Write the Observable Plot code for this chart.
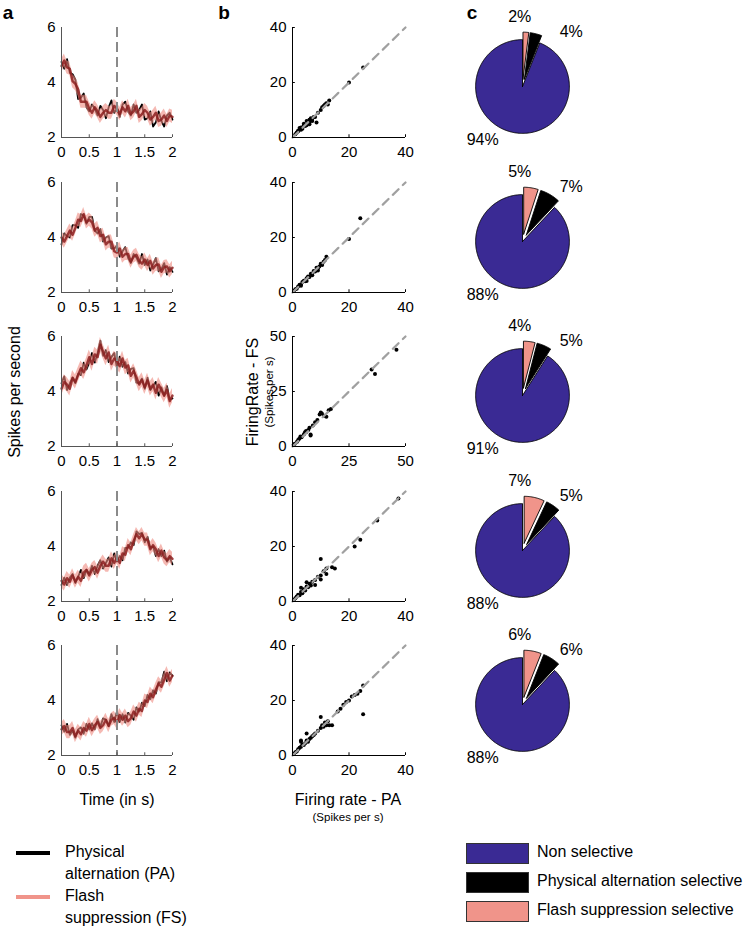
<!DOCTYPE html>
<html><head><meta charset="utf-8">
<script src="https://cdn.jsdelivr.net/npm/d3@7"></script>
<script src="https://cdn.jsdelivr.net/npm/@observablehq/plot@0.6"></script>
<style>
body{margin:0;background:#fff;}
#fig{position:relative;width:748px;height:927px;background:#fff;font-family:"Liberation Sans",Arial,Helvetica,sans-serif;color:#000;overflow:hidden}
.t{position:absolute;white-space:nowrap;line-height:1}
.c{transform:translate(-50%,-50%)}
.r{transform:translate(-50%,-50%) rotate(-90deg)}
</style></head><body><div id="fig"></div>
<script>
// ---------- DATA ----------
const timeSec = [0,0.05,0.1,0.15,0.2,0.25,0.3,0.35,0.4,0.45,0.5,0.55,0.6,0.65,0.7,0.75,0.8,0.85,0.9,0.95,1,1.05,1.1,1.15,1.2,1.25,1.3,1.35,1.4,1.45,1.5,1.55,1.6,1.65,1.7,1.75,1.8,1.85,1.9,1.95,2];
const timeTicks = [0,0.5,1,1.5,2];
const rateTicks = [2,4,6];
const stimOnset = [1];

// Physical alternation (PA) mean firing rate, one list per row
const paRates = [
  [4.75,4.5,4.85,4.35,4.3,4.1,3.4,3.45,3.6,3.1,2.95,3.2,3.05,2.8,3.15,3.0,2.7,3.1,3.35,2.9,3.05,2.75,3.2,3.3,2.95,2.8,3.2,2.9,3.0,3.2,2.65,2.7,2.95,2.4,2.55,2.95,2.6,2.4,2.8,2.9,2.65],
  [3.75,4.15,4.05,4.0,4.45,4.45,4.35,4.85,4.8,4.5,4.75,4.75,4.25,4.15,4.3,3.85,4.0,4.05,3.6,3.6,3.7,3.3,3.5,3.65,3.25,3.07,3.4,3.27,3.05,3.4,3.0,3.2,2.8,3.02,3.25,2.77,2.85,3.07,2.65,2.92,2.75],
  [4.3,4.55,4.05,4.3,4.5,4.3,4.65,4.6,5.05,4.8,5.05,5.4,5.05,5.4,5.85,5.3,5.5,5.07,5.25,5.4,4.85,5.27,4.9,5.07,4.65,4.82,4.85,4.32,4.3,4.47,4.1,4.5,4.05,4.2,4.35,3.85,4.15,3.85,4.2,3.7,3.75],
  [2.6,2.87,2.6,2.87,3.0,2.67,2.9,3.15,2.85,3.15,3.0,3.3,3.0,3.3,3.5,3.2,3.4,3.6,3.27,3.75,3.45,3.65,3.5,3.95,3.95,4.15,4.05,4.55,4.45,4.5,4.15,4.35,3.95,4.0,3.65,3.9,3.65,3.85,3.45,3.6,3.35],
  [3.1,2.87,3.15,2.75,2.9,2.65,2.95,3.02,2.8,3.15,2.95,3.17,2.95,3.32,3.05,3.35,3.3,3.07,3.5,3.22,3.6,3.22,3.5,3.2,3.55,3.45,3.3,3.75,3.6,3.92,3.8,4.2,4.05,4.37,4.25,4.67,4.65,5.05,4.7,5.02,4.9]
];
// Flash suppression (FS) mean firing rate, one list per row
const fsRates = [
  [4.6,4.8,4.55,4.5,4.05,3.95,3.75,3.3,3.3,3.3,3.05,2.9,3.1,2.95,2.75,2.9,3.0,2.9,2.9,3.15,3.05,2.85,3.1,2.95,3.15,2.85,2.95,3.15,2.75,2.85,3.0,2.9,2.65,2.75,2.9,2.6,2.65,2.8,2.6,2.8,2.75],
  [4.0,3.85,4.05,4.25,4.1,4.35,4.65,4.6,4.85,4.55,4.65,4.55,4.25,4.35,4.05,4.1,3.75,3.85,3.85,3.5,3.45,3.6,3.3,3.4,3.4,3.12,3.3,3.37,3.15,3.05,3.2,3.0,3.15,2.87,3.0,3.02,2.75,2.92,2.95,2.77,2.9],
  [4.1,4.35,4.25,4.1,4.5,4.35,4.6,4.85,4.7,4.95,5.25,5.0,5.35,5.25,5.7,5.45,5.2,5.42,5.0,5.2,5.1,4.92,5.2,4.87,4.95,4.57,4.75,4.52,4.25,4.42,4.15,4.4,4.1,4.25,3.95,4.25,4.05,3.85,4.05,3.65,3.85],
  [2.75,2.62,2.85,2.72,2.95,2.72,2.9,2.75,3.05,3.15,2.95,3.15,3.25,3.05,3.3,3.45,3.3,3.3,3.57,3.4,3.6,3.4,3.75,3.7,4.05,3.9,4.2,4.45,4.3,4.45,4.25,4.25,3.9,4.05,3.9,3.65,3.85,3.6,3.5,3.65,3.55],
  [2.95,3.07,2.85,2.85,3.0,2.7,2.9,2.77,3.0,2.9,3.15,2.92,3.1,3.22,3.0,3.1,3.3,3.07,3.3,3.37,3.2,3.47,3.3,3.45,3.25,3.35,3.6,3.45,3.7,3.62,4.0,3.95,4.25,4.12,4.4,4.62,4.5,4.75,5.0,4.72,4.9]
];
const fsSem = [0.24,0.24,0.26,0.24,0.24];

// Panel b: per-neuron firing rates (PA on x, FS on y)
const scatterPA = [
  [1,1.5,2,2.5,3,3,3.5,4,4.5,5,5,5.5,6,6,6.5,7,7.5,8,8.5,9,10,10.5,11,11.5,12,12.5,13,4,2,7,6,20,25],
  [0.5,1,1.5,2,2.5,3,3.5,4,4.5,5,5.5,6,6.5,7,7.5,8,8.5,9,9.5,10,10.5,11,11.5,12,3,5,7,9,20,24],
  [0.5,1,2,2.5,3,3.5,4,5,5.5,6,7,7.5,8,9,10,11,12,12.5,13,14,15,16,17,6,8,35,36.5,46],
  [0.5,1,1.5,2,2.5,3,3.5,4,4.5,5,5.5,6,6.5,7,8,9,10,11,12,3,5,8,10,12,14,10,15,22,24,30,37.5],
  [0.5,1,1.5,2,2.5,3,3,3.5,4,4.5,5,5.5,6,6.5,7,7.5,8,9,10,10.5,11,11.5,12,12.5,13,14,10,5,3,16,17,18,19,20,21,22,23,24,25,25]
];
const scatterFS = [
  [1.2,1.8,2.3,3.5,2.8,3.6,3.2,4.5,4.2,4.5,6,5.3,6.5,5.5,7,6.8,7.5,7.5,5.5,9,10,11,11.5,12,12.5,12,13.5,5,2.5,6,4.8,20,25.5],
  [0.6,1.2,1.4,2.2,2.8,2.9,3.8,4.3,4.1,5.2,5.8,5.6,6.8,6.9,7.8,7.6,9,8.8,9.5,10.5,10,11.2,11.8,13,2.5,4.2,6.3,8,19.5,27],
  [0.8,1.3,2.2,3.0,3.5,4.5,4.2,5.5,6.5,6.5,7.5,8.5,5,9.5,11,12,14.5,15.5,15,14,13.5,16.5,17,7,5.5,35,33,44],
  [0.6,1.2,1.8,2.5,2.3,3.5,3.0,4.5,4.0,5.5,5.2,6.5,5.8,7.2,7.8,9.0,9.5,11,12,5,7,6,8,10,12.5,15.5,12,20,22.5,29.5,37.5],
  [0.6,1.2,1.5,2.3,2.8,3.2,5,4,3.8,4.5,5.5,5,6,6.5,7,7.5,8,9,10,11,10.5,12,11,12.5,11,11,14,8,5.5,16,17,18.5,19.5,20,21.5,22,22.5,23.5,25.5,15]
];
const scatterMax = [40,40,50,40,40];
const scatterTicks = [[0,20,40],[0,20,40],[0,25,50],[0,20,40],[0,20,40]];

// Panel c: percentage of neurons per category
const pieCategories = ["Flash suppression selective","Physical alternation selective","Non selective"];
const pieFlash    = [2,5,4,7,6];
const piePhysical = [4,7,5,5,6];
const pieNon      = [94,88,91,88,88];
const pieColors = ["#F0948A","#000000","#3A2A94"];

const legendLines = ["Physical\nalternation (PA)","Flash\nsuppression (FS)"];
const legendLineColors = ["#000000","#F0948A"];
const legendPie = ["Non selective","Physical alternation selective","Flash suppression selective"];
const legendPieColors = ["#3A2A94","#000000","#F0948A"];

// ---------- LAYOUT ----------
const FONT = '"Liberation Sans", Arial, Helvetica, sans-serif';
const fig = document.getElementById("fig");
const ROW = 154.5;
const fmt = d3.format("~g");
function put(el, left, top){ el.style.position="absolute"; el.style.left=left+"px"; el.style.top=top+"px"; fig.appendChild(el); }
function txt(s, x, y, size, cls, extra){ const d=document.createElement("div"); d.className="t "+cls; d.textContent=s; d.style.left=x+"px"; d.style.top=y+"px"; d.style.fontSize=size+"px"; if(extra) Object.assign(d.style, extra); fig.appendChild(d); return d; }
const baseStyle = {fontFamily:FONT, fontSize:"15px", color:"#000", background:"transparent", overflow:"visible"};

for (let i=0;i<5;i++){
  const top = Math.round(17 + ROW*i);
  // ---- panel a ----
  const rows = timeSec.map((t,j)=>({t, pa:paRates[i][j], fs:fsRates[i][j], lo:fsRates[i][j]-fsSem[i], hi:fsRates[i][j]+fsSem[i]}));
  const pa = Plot.plot({
    width:180, height:150, marginLeft:40, marginRight:29, marginTop:10, marginBottom:30,
    style:baseStyle,
    x:{domain:[0,2]}, y:{domain:[2,6]},
    marks:[
      Plot.line(rows,{x:"t",y:"pa",stroke:"#000",strokeWidth:1.8}),
      Plot.areaY(rows,{x:"t",y1:"lo",y2:"hi",fill:"#EE8A80",fillOpacity:0.6}),
      Plot.line(rows,{x:"t",y:"fs",stroke:"#8B1E1E",strokeWidth:2.4,strokeOpacity:0.85}),
      Plot.ruleX(stimOnset,{stroke:"#8a8a8a",strokeWidth:2,strokeDasharray:"10,5"}),
      Plot.ruleY([2],{stroke:"#555",strokeWidth:1}),
      Plot.ruleX([0],{stroke:"#555",strokeWidth:1}),
      Plot.ruleX(timeTicks,{y1:2,y2:2.1,stroke:"#555"}),
      Plot.axisX({ticks:timeTicks, tickSize:0, tickPadding:9, label:null, tickFormat:fmt}),
      Plot.axisY({ticks:rateTicks, tickSize:0, tickPadding:6, label:null, tickFormat:fmt})
    ]
  });
  put(pa, 21, top);

  // ---- panel b ----
  const m = scatterMax[i];
  const pts = scatterPA[i].map((x,j)=>({x, y:scatterFS[i][j]}));
  const pb = Plot.plot({
    width:173, height:150, marginLeft:40, marginRight:20, marginTop:10, marginBottom:30,
    style:baseStyle,
    x:{domain:[0,m]}, y:{domain:[0,m]},
    marks:[
      Plot.dot(pts,{x:"x",y:"y",r:2,fill:"#000",stroke:"none"}),
      Plot.line([[0,0],[m,m]],{stroke:"#a0a0a0",strokeWidth:2.2,strokeDasharray:"8,6"}),
      Plot.ruleY([0],{stroke:"#000"}),
      Plot.ruleX([0],{stroke:"#000"}),
      Plot.ruleX(scatterTicks[i],{y1:0,y2:m*0.025,stroke:"#000"}),
      Plot.ruleY(scatterTicks[i],{x1:0,x2:m*0.025,stroke:"#000"}),
      Plot.axisX({ticks:scatterTicks[i], tickSize:0, tickPadding:9, label:null, tickFormat:fmt}),
      Plot.axisY({ticks:scatterTicks[i], tickSize:0, tickPadding:6, label:null, tickFormat:fmt})
    ]
  });
  put(pb, 252, top);

  // ---- panel c ----
  const vals = [pieFlash[i], piePhysical[i], pieNon[i]];
  const total = d3.sum(vals);
  const explode = [0.16,0.16,0];
  let acc = 0;
  const marks = [];
  vals.forEach((v,k)=>{
    const a0 = acc/total*2*Math.PI; acc += v; const a1 = acc/total*2*Math.PI;
    const mid=(a0+a1)/2, ox=explode[k]*Math.sin(mid), oy=explode[k]*Math.cos(mid);
    const n = Math.max(2, Math.ceil((a1-a0)/(Math.PI/180)));
    const poly = [[ox,oy]];
    for(let s=0;s<=n;s++){ const a=a0+(a1-a0)*s/n; poly.push([ox+Math.sin(a), oy+Math.cos(a)]); }
    poly.push([ox,oy]);
    marks.push(Plot.line(poly,{fill:pieColors[k],stroke:"#000",strokeWidth:0.9,strokeLinejoin:"round"}));
  });
  const labelPos = [[-0.06,1.49],[1.04,1.17],[-0.85,-1.14]];
  marks.push(Plot.text(vals.map((v,k)=>({x:labelPos[k][0], y:labelPos[k][1], s:v+"%"})),{x:"x",y:"y",text:"s",fontSize:16,fill:"#000"}));
  const pc = Plot.plot({
    width:150, height:150, margin:0,
    style:baseStyle,
    x:{domain:[-1.6,1.6], axis:null}, y:{domain:[-1.6,1.6], axis:null},
    marks
  });
  put(pc, 447, Math.round(11 + ROW*i));
}

// ---------- TEXT ----------
txt("a", 8, 12, 19, "c", {fontWeight:"bold"});
txt("b", 224, 12, 19, "c", {fontWeight:"bold"});
txt("c", 472, 12, 19, "c", {fontWeight:"bold"});
txt("Spikes per second", 15, 392, 16, "r");
txt("FiringRate - FS", 253, 392, 16, "r");
txt("(Spikes per s)", 270, 392, 11.5, "r");
txt("Time (in s)", 117, 800, 16, "c");
txt("Firing rate - PA", 348, 800, 16, "c");
txt("(Spikes per s)", 348, 818, 11.5, "c");

// legend left
legendLines.forEach((s,k)=>{
  const y = 853 + k*44;
  const ln = document.createElement("div");
  Object.assign(ln.style,{width:"34px",height:"4px",background:legendLineColors[k]});
  put(ln, 16, y-2);
  const parts = s.split("\n");
  parts.forEach((p,q)=>txt(p, 65, y + q*21.5 - 9, 16, "", {}));
});
// legend right
legendPie.forEach((s,k)=>{
  const y = 853 + k*29;
  const r = document.createElement("div");
  Object.assign(r.style,{width:"61px",height:"19px",background:legendPieColors[k],border:"1px solid #333"});
  put(r, 466, y-10);
  txt(s, 537, y-9, 16, "", {});
});
</script></body></html>
